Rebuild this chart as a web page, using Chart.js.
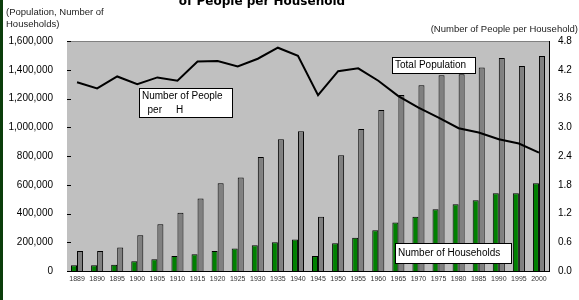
<!DOCTYPE html>
<html>
<head>
<meta charset="utf-8">
<script src="https://cdn.jsdelivr.net/npm/chart.js@4"></script>
<style>
  body { margin: 0; background: #fff; }
  #wrap { width: 579px; height: 300px; position: relative; }
</style>
</head>
<body>
<div id="wrap"><canvas id="popChart" width="579" height="300"></canvas></div>
<script>
// Data
const years = ['1889', '1890', '1895', '1900', '1905', '1910', '1915', '1920', '1925', '1930', '1935', '1940',
    '1945', '1950', '1955', '1960', '1965', '1970', '1975', '1980', '1985', '1990', '1995', '2000'];
const households = [40000, 40000, 43000, 67000, 81000, 104000, 116000, 139000, 156000, 179000, 200000, 220000,
    104000, 193000, 232000, 283000, 337000, 378000, 429000, 464000, 492000, 541000, 541000, 610000];
const population = [139000, 139000, 163000, 248000, 325000, 406000, 504000, 610000, 650000, 793000, 916000, 972000,
    378000, 805000, 988000, 1120000, 1224000, 1292000, 1361000, 1368000, 1415000, 1482000, 1426000, 1496000];
const peoplePerHousehold = [3.94, 3.81, 4.06, 3.90, 4.04, 3.97, 4.37, 4.38, 4.27, 4.43, 4.66, 4.49,
    3.67, 4.17, 4.23, 3.97, 3.65, 3.41, 3.20, 2.98, 2.89, 2.75, 2.66, 2.47];
const leftTicks = [0, 200000, 400000, 600000, 800000, 1000000, 1200000, 1400000, 1600000];
const rightTicks = [0, 0.6, 1.2, 1.8, 2.4, 3.0, 3.6, 4.2, 4.8];

const FONT = 'Arial, "Liberation Sans", sans-serif';

// Plot background + frame, drawn before the datasets
const plotBg = {
    id: 'plotBg',
    beforeDatasetsDraw(chart) {
        const { ctx, chartArea: a } = chart;
        ctx.save();
        ctx.fillStyle = '#c0c0c0';
        ctx.fillRect(a.left, a.top, a.right - a.left, a.bottom - a.top);
        ctx.strokeStyle = '#808080';
        ctx.lineWidth = 1;
        ctx.beginPath();
        ctx.moveTo(a.left, a.top + 0.5);
        ctx.lineTo(a.right, a.top + 0.5);
        ctx.stroke();
        ctx.strokeStyle = '#000';
        ctx.beginPath();
        ctx.moveTo(a.right + 0.5, a.top);
        ctx.lineTo(a.right + 0.5, a.bottom);
        ctx.stroke();
        // short inside ticks on the left axis
        const yl = chart.scales.yLeft;
        ctx.beginPath();
        leftTicks.forEach(v => {
            const y = Math.round(yl.getPixelForValue(v)) + 0.5;
            ctx.moveTo(a.left, y);
            ctx.lineTo(a.left + 4, y);
        });
        ctx.stroke();
        ctx.restore();
    }
};

function boxLabel(ctx, lines, x, y, w, h) {
    ctx.fillStyle = '#fff';
    ctx.fillRect(x, y, w, h);
    ctx.strokeStyle = '#000';
    ctx.lineWidth = 1;
    ctx.strokeRect(x + 0.5, y + 0.5, w, h);
    ctx.fillStyle = '#000';
    ctx.font = '10px ' + FONT;
    ctx.textBaseline = 'middle';
    ctx.textAlign = 'left';
    const step = h / lines.length;
    lines.forEach((t, i) => ctx.fillText(t, x + 3, y + step * i + step / 2 + 0.5));
}

// Titles, axis captions and the boxed series labels
const annotations = {
    id: 'annotations',
    afterDraw(chart) {
        const ctx = chart.ctx;
        ctx.save();
        // dark edge on the far left
        ctx.fillStyle = '#0b3d0b';
        ctx.fillRect(0, 0, 3, 300);

        ctx.fillStyle = '#000';
        ctx.font = 'bold 12px "DejaVu Sans", sans-serif';
        ctx.textAlign = 'center';
        ctx.textBaseline = 'middle';
        ctx.fillText('of People per Household', 262, 2);

        ctx.font = '9.5px ' + FONT;
        ctx.fillStyle = '#222';
        ctx.textAlign = 'left';
        ctx.fillText('(Population, Number of', 6, 12);
        ctx.fillText('Households)', 6, 24);
        ctx.textAlign = 'right';
        ctx.fillText('(Number of People per Household)', 578, 29);

        boxLabel(ctx, ['Total Population'], 392, 57, 83, 16);
        boxLabel(ctx, ['Number of People', '  per     H'], 139, 88, 93, 29);
        boxLabel(ctx, ['Number of Households'], 395, 243, 116, 20);
        ctx.restore();
    }
};

const ctx = document.getElementById('popChart').getContext('2d');
const popChart = new Chart(ctx, {
    data: {
        labels: years,
        datasets: [
            {
                type: 'line',
                label: 'Number of People per Household',
                data: peoplePerHousehold,
                yAxisID: 'yRight',
                borderColor: '#000',
                borderWidth: 2,
                pointRadius: 0,
                tension: 0,
                order: 0
            },
            {
                type: 'bar',
                label: 'Number of Households',
                data: households,
                yAxisID: 'yLeft',
                backgroundColor: '#008000',
                borderColor: '#000',
                borderWidth: 1,
                categoryPercentage: 0.6,
                barPercentage: 1.0,
                order: 1
            },
            {
                type: 'bar',
                label: 'Total Population',
                data: population,
                yAxisID: 'yLeft',
                backgroundColor: '#808080',
                borderColor: '#000',
                borderWidth: 1,
                categoryPercentage: 0.6,
                barPercentage: 1.0,
                order: 1
            }
        ]
    },
    options: {
        responsive: false,
        animation: false,
        layout: { padding: { top: 41, bottom: 13, left: 0, right: 0 } },
        plugins: {
            legend: { display: false },
            tooltip: { enabled: false }
        },
        scales: {
            x: {
                grid: { display: false, drawTicks: false },
                border: { color: '#000', width: 1 },
                ticks: {
                    color: '#333',
                    font: { family: FONT, size: 7 },
                    maxRotation: 0,
                    autoSkip: false,
                    padding: 4
                },
                afterFit(scale) { scale.height = 16; }
            },
            yLeft: {
                position: 'left',
                min: 0,
                max: 1600000,
                afterBuildTicks(scale) { scale.ticks = leftTicks.map(v => ({ value: v })); },
                grid: { display: false, drawTicks: false },
                border: { color: '#000', width: 1 },
                ticks: {
                    color: '#000',
                    font: { family: FONT, size: 10 },
                    padding: 14,
                    callback: v => v.toLocaleString('en-US')
                },
                afterFit(scale) { scale.width = 67; }
            },
            yRight: {
                position: 'right',
                min: 0,
                max: 4.8,
                afterBuildTicks(scale) { scale.ticks = rightTicks.map(v => ({ value: v })); },
                grid: { display: false, drawOnChartArea: false, tickLength: 4 },
                border: { display: false },
                ticks: {
                    color: '#000',
                    font: { family: FONT, size: 10 },
                    padding: 5,
                    callback: v => v.toFixed(1)
                },
                afterFit(scale) { scale.width = 30; }
            }
        }
    },
    plugins: [plotBg, annotations]
});
</script>
</body>
</html>
